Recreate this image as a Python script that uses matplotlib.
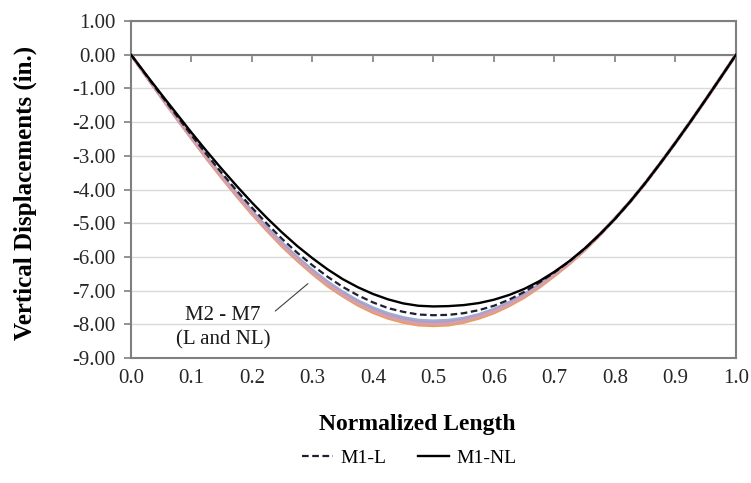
import matplotlib.pyplot as plt

plt.rcParams["font.family"] = ["Liberation Serif", "DejaVu Serif"]
plt.rcParams["axes.unicode_minus"] = False

# normalized length along the member (every 0.025)
x_pos = [i / 40 for i in range(41)]

# M1 results (in.)
m1_l = [0, -0.61, -1.21, -1.80, -2.39, -2.96, -3.51, -4.04, -4.54, -5.02, -5.47,
        -5.88, -6.25, -6.59, -6.89, -7.14, -7.35, -7.52, -7.63, -7.71, -7.73,
        -7.72, -7.67, -7.58, -7.45, -7.27, -7.04, -6.76, -6.46, -6.13, -5.76,
        -5.34, -4.87, -4.36, -3.81, -3.22, -2.61, -1.98, -1.33, -0.67, 0]
m1_nl = [0, -0.59, -1.17, -1.74, -2.31, -2.86, -3.39, -3.90, -4.39, -4.85, -5.28,
         -5.68, -6.04, -6.37, -6.66, -6.90, -7.10, -7.26, -7.38, -7.45, -7.47,
         -7.46, -7.43, -7.37, -7.27, -7.13, -6.95, -6.72, -6.44, -6.12, -5.75,
         -5.33, -4.87, -4.36, -3.81, -3.22, -2.61, -1.98, -1.33, -0.67, 0]

# M2 - M7 (L and NL), all lying almost on top of each other
m_orange = [0, -0.63, -1.26, -1.88, -2.48, -3.08, -3.65, -4.20, -4.73, -5.22, -5.69,
            -6.11, -6.50, -6.86, -7.16, -7.43, -7.65, -7.82, -7.94, -8.02, -8.04,
            -8.02, -7.94, -7.82, -7.66, -7.45, -7.20, -6.90, -6.56, -6.20, -5.80,
            -5.35, -4.87, -4.36, -3.81, -3.22, -2.61, -1.98, -1.33, -0.67, 0]
m_blue = [0, -0.62, -1.24, -1.84, -2.44, -3.02, -3.59, -4.13, -4.64, -5.13, -5.59,
          -6.01, -6.39, -6.74, -7.04, -7.30, -7.51, -7.68, -7.80, -7.88, -7.90,
          -7.88, -7.82, -7.71, -7.55, -7.35, -7.11, -6.82, -6.49, -6.14, -5.76,
          -5.33, -4.86, -4.36, -3.81, -3.22, -2.61, -1.98, -1.33, -0.67, 0]
m_purple = [0, -0.62, -1.25, -1.86, -2.46, -3.05, -3.61, -4.16, -4.68, -5.17, -5.63,
            -6.05, -6.44, -6.79, -7.09, -7.35, -7.57, -7.74, -7.86, -7.94, -7.96,
            -7.94, -7.87, -7.75, -7.59, -7.39, -7.14, -6.85, -6.51, -6.16, -5.77,
            -5.33, -4.86, -4.36, -3.81, -3.22, -2.61, -1.98, -1.33, -0.67, 0]
m_pink = [0, -0.63, -1.25, -1.87, -2.47, -3.06, -3.63, -4.18, -4.70, -5.20, -5.66,
          -6.08, -6.47, -6.82, -7.13, -7.39, -7.61, -7.78, -7.90, -7.98, -8.00,
          -7.98, -7.90, -7.78, -7.62, -7.42, -7.17, -6.87, -6.53, -6.18, -5.78,
          -5.34, -4.86, -4.36, -3.81, -3.22, -2.61, -1.98, -1.33, -0.67, 0]

x_ticks = [0.0, 0.1, 0.2, 0.3, 0.4, 0.5, 0.6, 0.7, 0.8, 0.9, 1.0]
y_ticks = [1, 0, -1, -2, -3, -4, -5, -6, -7, -8, -9]

fig = plt.figure(figsize=(7.51, 4.83), dpi=100)
ax = fig.add_axes([0.1744, 0.2588, 0.8056, 0.6977])

frame = "#7F7F7F"

ax.plot(x_pos, m_orange, color="#F29B4C", lw=2.2, zorder=3)
ax.plot(x_pos, m_blue, color="#9AAED6", lw=2.2, zorder=3)
ax.plot(x_pos, m_purple, color="#B29BC8", lw=2.2, zorder=3)
ax.plot(x_pos, m_pink, color="#D4A0AE", lw=2.2, zorder=3)

ax.plot(x_pos, m1_l, color="#1F1F2F", lw=1.6, ls=(0, (3, 1.6)), label="M1-L", zorder=4)
ax.plot(x_pos, m1_nl, color="black", lw=1.7, label="M1-NL", zorder=4)

ax.set_xlim(0, 1)
ax.set_ylim(-9, 1)
ax.set_xticks(x_ticks)
ax.set_xticklabels(["%.1f" % t for t in x_ticks])
ax.set_yticks(y_ticks)
ax.set_yticklabels(["%.2f" % t for t in y_ticks])

ax.grid(axis="y", color="#D9D9D9", lw=1.0)
ax.set_axisbelow(True)

# horizontal axis drawn through zero, like the spreadsheet chart
ax.spines["top"].set_position(("data", 0))
ax.axhline(1.0, color=frame, lw=1.5, clip_on=False, zorder=2)
for s in ["top", "bottom", "left", "right"]:
    ax.spines[s].set_color(frame)
    ax.spines[s].set_linewidth(1.5)
ax.tick_params(axis="x", which="both", bottom=False, top=True, direction="in",
               length=5, width=1.2, color=frame, labelbottom=True, labeltop=False,
               pad=8, labelsize=15, labelcolor="#262626")
ax.tick_params(axis="y", direction="out", length=5, width=1.2, color=frame,
               pad=6, labelsize=15, labelcolor="#262626")

ax.set_xlabel("Normalized Length", fontsize=17, fontweight="bold")
ax.xaxis.set_label_coords(0.474, -0.165)
ax.set_ylabel("Vertical Displacements (in.)", fontsize=18, fontweight="bold")
ax.yaxis.set_label_coords(-0.155, 0.49)

ax.text(0.152, -8.1, "M2 - M7\n(L and NL)", ha="center", va="center", fontsize=15,
        linespacing=1.35, color="#1A1A1A")
ax.annotate("", xy=(0.296, -6.74), xytext=(0.235, -7.66),
            arrowprops=dict(arrowstyle="-", color="#404040", lw=0.8))

fig.legend(loc="center", bbox_to_anchor=(0.545, 0.052), ncol=2, frameon=False,
           fontsize=14, handlelength=1.6, handletextpad=0.4, columnspacing=1.6)

fig.savefig("out.png", dpi=100)
